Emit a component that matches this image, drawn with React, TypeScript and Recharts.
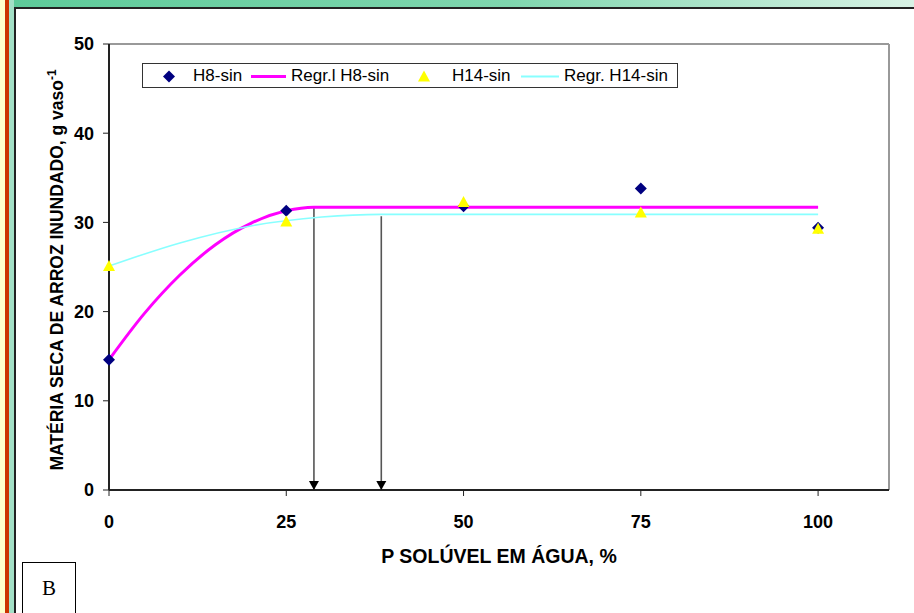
import React from 'react'
import {
  ComposedChart, Line, Scatter, XAxis, YAxis, Legend, ReferenceLine, ReferenceDot, Label,
} from 'recharts'

// P rates (% water-soluble)
const P_LEVELS = [0, 25, 50, 75, 100]
const H8_OBS = [14.6, 31.3, 31.8, 33.8, 29.4]
const H14_OBS = [25.1, 30.1, 32.3, 31.1, 29.3]

// fitted curves
const H8_FIT_X = [0, 5, 10, 15, 20, 25, 28.9, 100]
const H8_FIT_Y = [14.6, 19.8, 24.1, 27.5, 29.9, 31.3, 31.7, 31.7]
const H14_FIT_X = [0, 10, 20, 30, 38.4, 100]
const H14_FIT_Y = [25.1, 27.7, 29.6, 30.6, 30.9, 30.9]

// plateau points marked with arrows
const ARROW_X = [28.9, 38.4]
const ARROW_TOP = [31.7, 30.7]

const X_TICKS = [0, 25, 50, 75, 100]
const Y_TICKS = [0, 10, 20, 30, 40, 50]

const h8 = P_LEVELS.map((x, i) => ({ x, y: H8_OBS[i] }))
const h14 = P_LEVELS.map((x, i) => ({ x, y: H14_OBS[i] }))
const h8Fit = H8_FIT_X.map((x, i) => ({ x, y: H8_FIT_Y[i] }))
const h14Fit = H14_FIT_X.map((x, i) => ({ x, y: H14_FIT_Y[i] }))

const FONT = 'Arial, "Liberation Sans", sans-serif'

const Diamond = ({ cx, cy }: any) => (
  <polygon points={`${cx},${cy - 6} ${cx + 6},${cy} ${cx},${cy + 6} ${cx - 6},${cy}`} fill="#000080" />
)

const Tri = ({ cx, cy }: any) => (
  <polygon points={`${cx},${cy - 6} ${cx + 6},${cy + 5} ${cx - 6},${cy + 5}`} fill="#ffff00" />
)

const ArrowHead = ({ cx, cy }: any) => (
  <polygon points={`${cx - 5},${cy - 9} ${cx + 5},${cy - 9} ${cx},${cy}`} fill="#000" />
)

const legendText = { position: 'absolute' as const, top: 2, fontSize: 17, fontFamily: FONT, color: '#000', whiteSpace: 'nowrap' as const }

const ChartLegend = () => (
  <div style={{ position: 'relative', width: 536, height: 25, border: '1px solid #333', boxSizing: 'border-box', background: '#fff' }}>
    <svg style={{ position: 'absolute', left: 0, top: 0 }} width={536} height={25}>
      <polygon points="26,6.5 32,12.5 26,18.5 20,12.5" fill="#000080" />
      <line x1={108} x2={143} y1={12.5} y2={12.5} stroke="#ff00ff" strokeWidth={3} />
      <polygon points="281,6.5 287,17.5 275,17.5" fill="#ffff00" />
      <line x1={378} x2={416} y1={12.5} y2={12.5} stroke="#88ffff" strokeWidth={2} />
    </svg>
    <span style={{ ...legendText, left: 50 }}>H8-sin</span>
    <span style={{ ...legendText, left: 148 }}>Regr.l H8-sin</span>
    <span style={{ ...legendText, left: 309 }}>H14-sin</span>
    <span style={{ ...legendText, left: 421 }}>Regr. H14-sin</span>
  </div>
)

const tickStyle = { fontSize: 18, fontWeight: 700, fill: '#000', fontFamily: FONT }

export default function App() {
  return (
    <div style={{ position: 'absolute', left: 0, top: 0, width: 914, height: 613, overflow: 'hidden', background: '#fff' }}>
      {/* slide frame */}
      <div style={{ position: 'absolute', left: 0, top: 0, width: 5, height: 613, background: '#ffffcc' }} />
      <div style={{ position: 'absolute', left: 5, top: 0, width: 4, height: 613, background: '#cc3300' }} />
      <div style={{ position: 'absolute', left: 9, top: 0, width: 5, height: 613, background: '#a3e0c6' }} />
      <div style={{ position: 'absolute', left: 14, top: 0, width: 900, height: 7, background: 'linear-gradient(to right, #5ecb9a, #7fd6ae 55%, #d8f2e5)' }} />
      <div style={{ position: 'absolute', left: 14, top: 7, width: 900, height: 1.5, background: '#222' }} />
      <div style={{ position: 'absolute', left: 14, top: 7, width: 2, height: 606, background: '#222' }} />

      <div style={{ position: 'absolute', left: 16, top: 8 }}>
        <ComposedChart width={898} height={605} margin={{ top: 36, right: 25, left: 0, bottom: 0 }}>
          <XAxis
            type="number"
            dataKey="x"
            domain={[0, 110]}
            ticks={X_TICKS}
            height={123}
            tickSize={6}
            tickMargin={19}
            tick={tickStyle}
            axisLine={{ stroke: '#222', strokeWidth: 2 }}
            tickLine={{ stroke: '#222' }}
          >
            <Label
              content={() => (
                <text x={483} y={555} textAnchor="middle" fontSize={19.5} fontWeight={700} fontFamily={FONT} fill="#000">
                  P SOLÚVEL EM ÁGUA, %
                </text>
              )}
            />
          </XAxis>
          <YAxis
            type="number"
            dataKey="y"
            domain={[0, 50]}
            ticks={Y_TICKS}
            width={93}
            tickSize={6}
            tickMargin={9}
            tick={tickStyle}
            axisLine={{ stroke: '#222', strokeWidth: 2 }}
            tickLine={{ stroke: '#222' }}
          >
            <Label
              content={() => (
                <text
                  x={47}
                  y={262}
                  transform="rotate(-90 47 262)"
                  textAnchor="middle"
                  fontSize={17.5}
                  fontWeight={700}
                  fontFamily={FONT}
                  fill="#000"
                >
                  MATÉRIA SECA DE ARROZ INUNDADO, g vaso
                  <tspan dy={-7} fontSize={12}>-1</tspan>
                </text>
              )}
            />
          </YAxis>

          {/* plot area border (top / right) */}
          <ReferenceLine y={50} stroke="#999" strokeWidth={2} />
          <ReferenceLine x={110} stroke="#999" strokeWidth={2} />

          {ARROW_X.map((x, i) => (
            <ReferenceLine key={'a' + i} segment={[{ x, y: ARROW_TOP[i] }, { x, y: 0 }]} stroke="#555" strokeWidth={1.6} />
          ))}
          {ARROW_X.map((x, i) => (
            <ReferenceDot key={'h' + i} x={x} y={0} r={5} shape={<ArrowHead />} />
          ))}

          <Scatter name="H8-sin" data={h8} shape={<Diamond />} isAnimationActive={false} />
          <Line name="Regr.l H8-sin" data={h8Fit} dataKey="y" type="monotone" stroke="#ff00ff" strokeWidth={3} dot={false} isAnimationActive={false} />
          <Scatter name="H14-sin" data={h14} shape={<Tri />} isAnimationActive={false} />
          <Line name="Regr. H14-sin" data={h14Fit} dataKey="y" type="monotone" stroke="#88ffff" strokeWidth={1.6} dot={false} isAnimationActive={false} />

          <Legend
            layout="vertical"
            align="center"
            verticalAlign="middle"
            content={<ChartLegend />}
            wrapperStyle={{ position: 'absolute', left: 126, top: 55, width: 536, height: 25 }}
          />
        </ComposedChart>
      </div>

      <div
        style={{
          position: 'absolute', left: 22, top: 562, width: 54, height: 70, border: '1px solid #000',
          boxSizing: 'border-box', background: '#fff', fontFamily: '"Liberation Serif", "Times New Roman", serif',
          fontSize: 21, textAlign: 'center', paddingTop: 13,
        }}
      >
        B
      </div>
    </div>
  )
}
